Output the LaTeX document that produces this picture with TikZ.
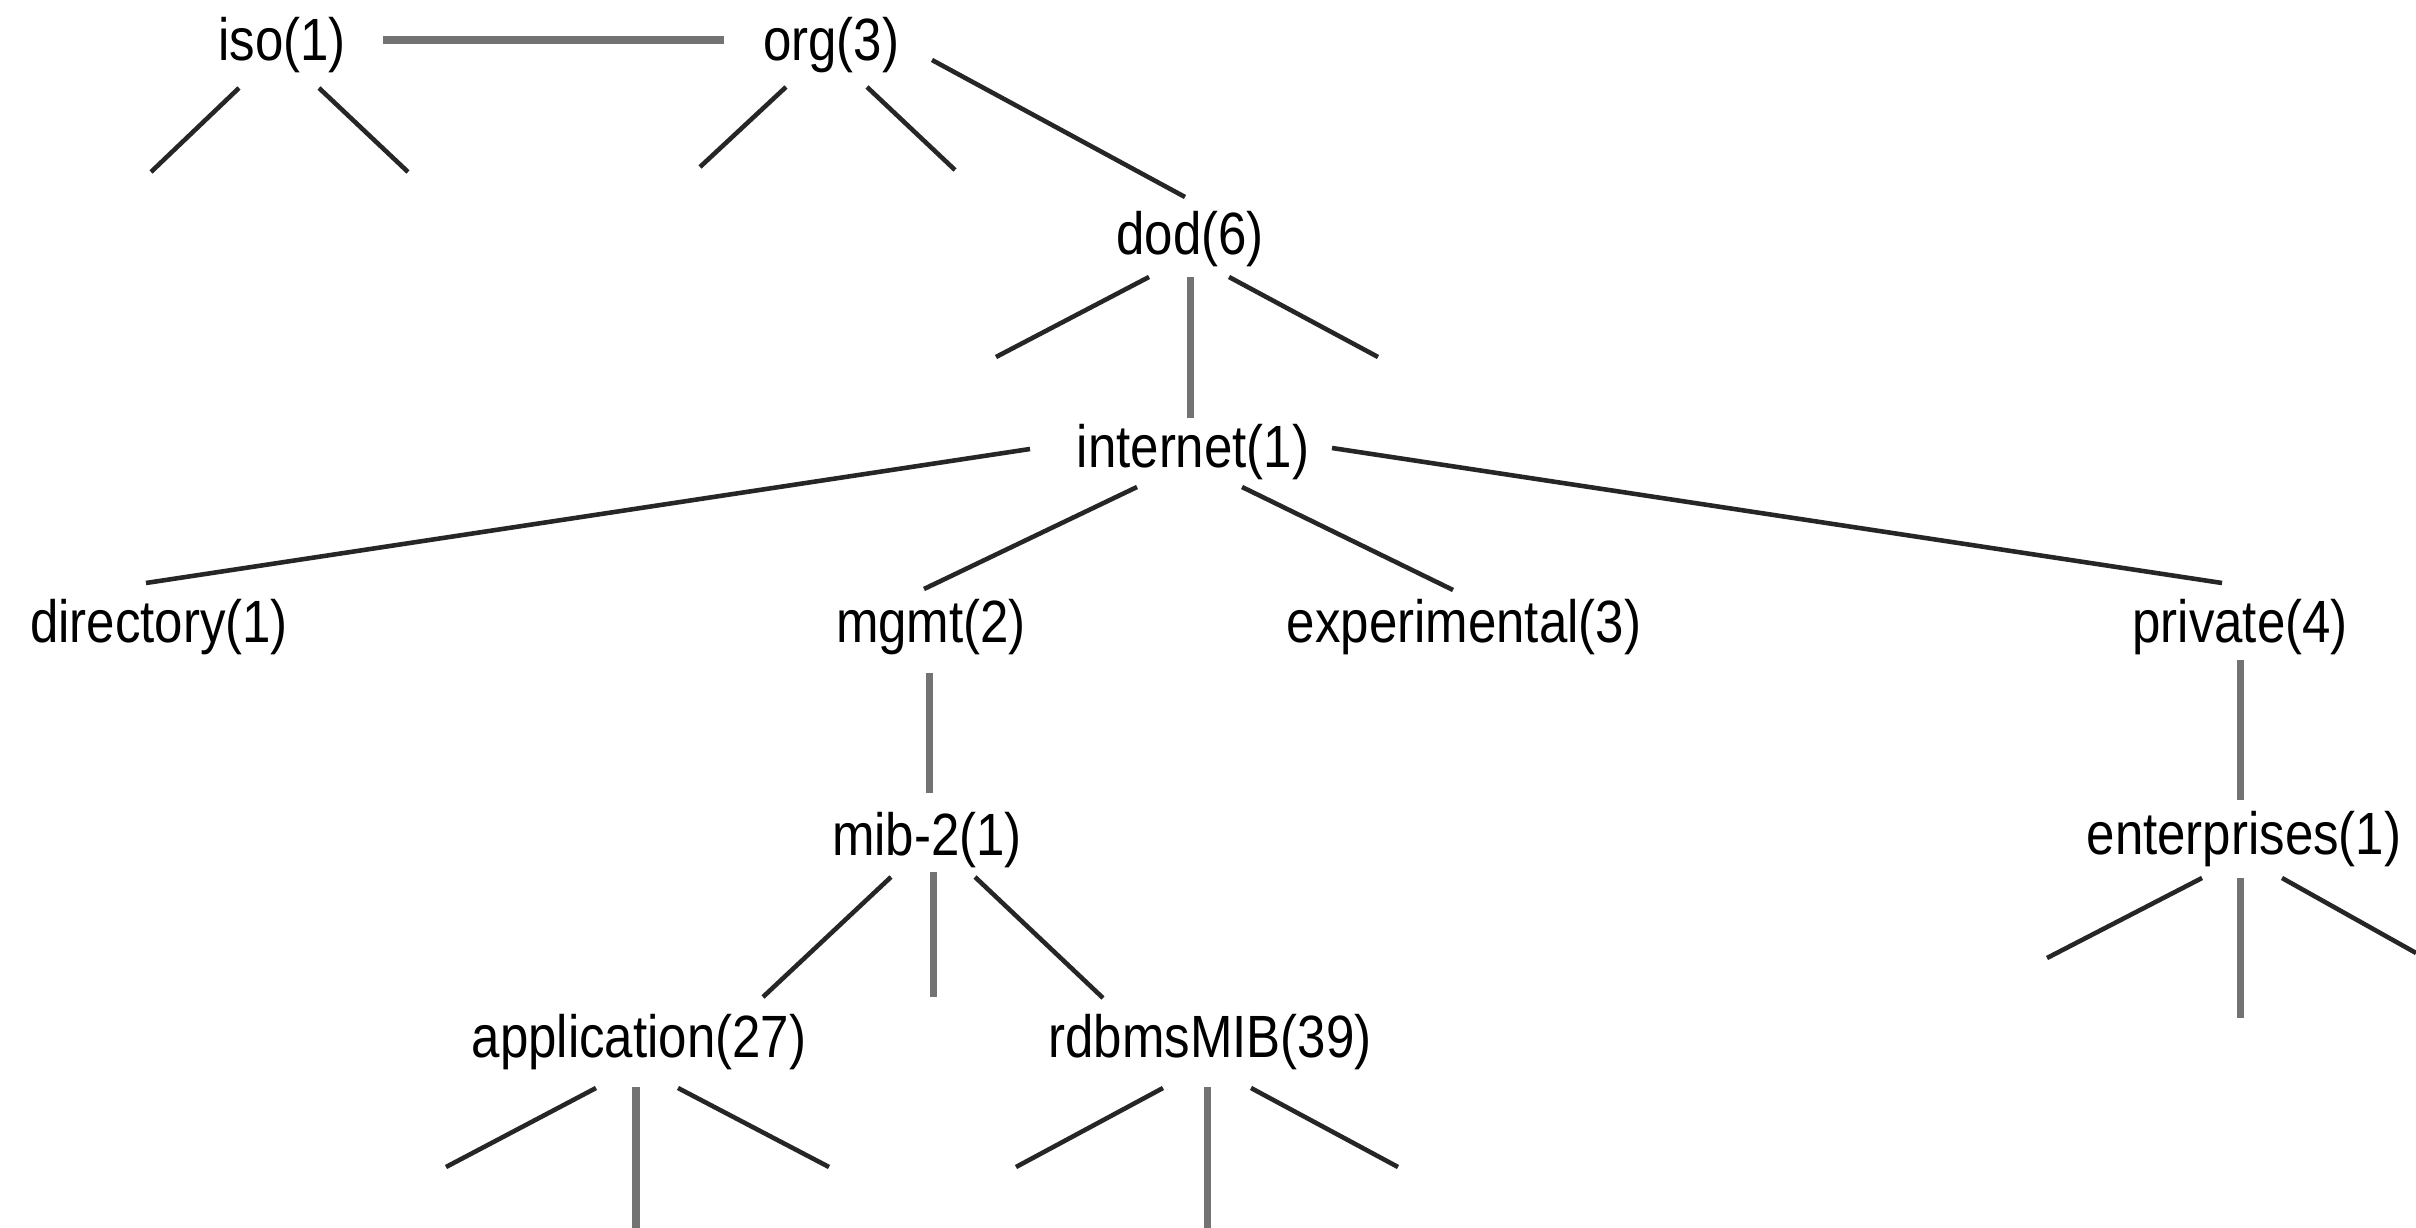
\documentclass[tikz,border=0pt]{standalone}
\usepackage{fontspec}
\usepackage{graphicx}
\setmainfont{Liberation Sans}
\newcommand{\oidfont}{\fontsize{14.5pt}{17pt}\selectfont}
\newcommand{\oid}[1]{\scalebox{1}[1.17]{#1}}
\begin{document}
\begin{tikzpicture}[x=0.01cm,y=-0.01cm,
  lbl/.style={inner sep=0pt,outer sep=0pt,font=\oidfont,text=black},
  edge/.style={line width=1.3pt,draw=black!85},
  vedge/.style={line width=2pt,draw=black!55}]
\useasboundingbox[fill=white] (0,0) rectangle (2416,1228);

% nodes
\node[lbl] (iso) at (282,45) {\oid{iso(1)}};
\node[lbl] (org) at (831,45) {\oid{org(3)}};
\node[lbl] (dod) at (1190,239) {\oid{dod(6)}};
\node[lbl] (internet) at (1193,452) {\oid{internet(1)}};
\node[lbl] (directory) at (159,627) {\oid{directory(1)}};
\node[lbl] (mgmt) at (931,627) {\oid{mgmt(2)}};
\node[lbl] (experimental) at (1464,627) {\oid{experimental(3)}};
\node[lbl] (private) at (2240,627) {\oid{private(4)}};
\node[lbl] (mib2) at (927,840) {\oid{mib-2(1)}};
\node[lbl] (enterprises) at (2244,839) {\oid{enterprises(1)}};
\node[lbl] (application) at (639,1042) {\oid{application(27)}};
\node[lbl] (rdbms) at (1210,1042) {\oid{rdbmsMIB(39)}};

% free ends
\coordinate (isoL) at (151,172);
\coordinate (isoR) at (408,172);
\coordinate (orgL) at (700,167);
\coordinate (orgR) at (955,170);
\coordinate (dodL) at (996,357);
\coordinate (dodR) at (1378,357);
\coordinate (mibM) at (933,997);
\coordinate (entL) at (2047,958);
\coordinate (entM) at (2240,1018);
\coordinate (entR) at (2416,953);
\coordinate (appL) at (446,1167);
\coordinate (appM) at (636,1228);
\coordinate (appR) at (829,1167);
\coordinate (rdbL) at (1016,1167);
\coordinate (rdbM) at (1207,1228);
\coordinate (rdbR) at (1398,1167);

% connectors between nodes
\draw[vedge] ([shift={(101,-5)}]iso.center) -- ([shift={(-107,-5)}]org.center);
\draw[edge] ([shift={(101,15)}]org.center) -- ([shift={(-5,-42)}]dod.center);
\draw[vedge] ([shift={(0,38)}]dod.center) -- ([shift={(-3,-34)}]internet.center);
\draw[edge] ([shift={(-163,-3)}]internet.center) -- ([shift={(-13,-44)}]directory.center);
\draw[edge] ([shift={(-56,35)}]internet.center) -- ([shift={(-7,-38)}]mgmt.center);
\draw[edge] ([shift={(49,35)}]internet.center) -- ([shift={(-11,-37)}]experimental.center);
\draw[edge] ([shift={(139,-4)}]internet.center) -- ([shift={(-18,-44)}]private.center);
\draw[vedge] ([shift={(-2,46)}]mgmt.center) -- ([shift={(2,-47)}]mib2.center);
\draw[vedge] ([shift={(0,33)}]private.center) -- ([shift={(-4,-39)}]enterprises.center);
\draw[edge] ([shift={(-36,37)}]mib2.center) -- ([shift={(124,-45)}]application.center);
\draw[edge] ([shift={(48,37)}]mib2.center) -- ([shift={(-107,-44)}]rdbms.center);

% stubs to free ends
\draw[edge] ([shift={(-43,43)}]iso.center) -- (isoL);
\draw[edge] ([shift={(37,43)}]iso.center) -- (isoR);
\draw[edge] ([shift={(-45,42)}]org.center) -- (orgL);
\draw[edge] ([shift={(36,42)}]org.center) -- (orgR);
\draw[edge] ([shift={(-41,38)}]dod.center) -- (dodL);
\draw[edge] ([shift={(39,38)}]dod.center) -- (dodR);
\draw[vedge] ([shift={(6,32)}]mib2.center) -- (mibM);
\draw[edge] ([shift={(-42,39)}]enterprises.center) -- (entL);
\draw[vedge] ([shift={(-4,39)}]enterprises.center) -- (entM);
\draw[edge] ([shift={(38,39)}]enterprises.center) -- (entR);
\draw[edge] ([shift={(-43,46)}]application.center) -- (appL);
\draw[vedge] ([shift={(-3,45)}]application.center) -- (appM);
\draw[edge] ([shift={(39,46)}]application.center) -- (appR);
\draw[edge] ([shift={(-47,46)}]rdbms.center) -- (rdbL);
\draw[vedge] ([shift={(-3,45)}]rdbms.center) -- (rdbM);
\draw[edge] ([shift={(41,46)}]rdbms.center) -- (rdbR);
\end{tikzpicture}
\end{document}
